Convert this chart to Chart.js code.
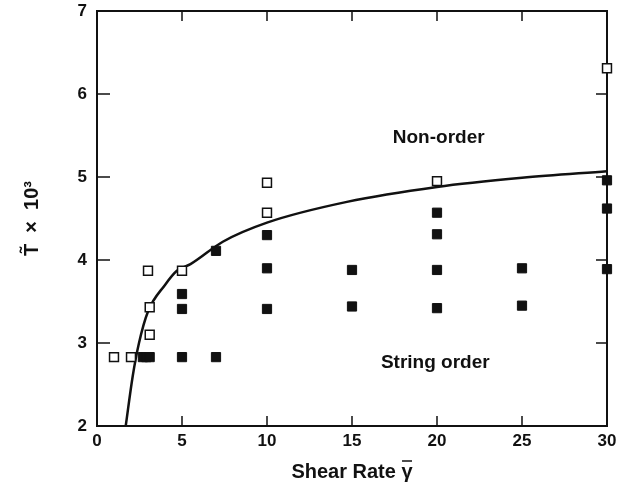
<!DOCTYPE html>
<html>
<head>
<meta charset="utf-8">
<script src="https://cdn.jsdelivr.net/npm/chart.js@4.4.0/dist/chart.umd.min.js"></script>
<style>
  html, body { margin: 0; padding: 0; background: #fff; }
  #wrap { width: 620px; height: 488px; }
</style>
</head>
<body>
<div id="wrap"><canvas id="chart"></canvas></div>
<script>
// Non-order (open squares)
const openX = [1, 2, 3, 3.1, 3.1, 5, 10, 10, 20, 30];
const openY = [2.83, 2.83, 3.87, 3.43, 3.1, 3.87, 4.93, 4.57, 4.95, 6.31];

// String order (filled squares)
const fillX = [2.7, 2.9, 3.1, 5, 7, 5, 5, 7, 10, 10, 10, 15, 15, 20, 20, 20, 20, 25, 25, 30, 30, 30];
const fillY = [2.83, 2.83, 2.83, 2.83, 2.83, 3.41, 3.59, 4.11, 3.41, 3.90, 4.30, 3.44, 3.88, 3.42, 3.88, 4.31, 4.57, 3.45, 3.90, 3.89, 4.62, 4.96];

// Boundary curve
const curveX = [1.69, 2.1, 2.47, 3.0, 4.0, 4.7, 5.5, 7.4, 10, 14.7, 20, 25, 30];
const curveY = [2.0, 2.6, 3.0, 3.38, 3.7, 3.87, 3.95, 4.22, 4.45, 4.70, 4.88, 4.99, 5.07];

// Tick values
const xTicks = [0, 5, 10, 15, 20, 25, 30];
const yTicks = [2, 3, 4, 5, 6, 7];

// Region labels (text, x, y in data units)
const regionLabels = [
    { text: 'Non-order', x: 20.1, y: 5.47 },
    { text: 'String order', x: 19.9, y: 2.76 }
];

const FONT = "'Liberation Sans', Arial, sans-serif";
const X_TITLE = 'Shear Rate γ';
const pts = (xs, ys) => xs.map((x, i) => ({ x, y: ys[i] }));

// Frame + inward ticks + region text + bar over gamma
const framePlugin = {
    id: 'frame',
    beforeDatasetsDraw(chart) {
        const { ctx, chartArea: a, scales: { x, y } } = chart;
        ctx.save();
        ctx.strokeStyle = '#111';
        ctx.lineWidth = 2;
        ctx.strokeRect(a.left, a.top, a.right - a.left, a.bottom - a.top);
        ctx.lineWidth = 1.5;
        ctx.beginPath();
        xTicks.slice(1, -1).forEach(v => {
            const px = x.getPixelForValue(v);
            ctx.moveTo(px, a.bottom); ctx.lineTo(px, a.bottom - 10);
            ctx.moveTo(px, a.top); ctx.lineTo(px, a.top + 10);
        });
        yTicks.slice(1, -1).forEach(v => {
            const py = y.getPixelForValue(v);
            ctx.moveTo(a.left, py); ctx.lineTo(a.left + 13, py);
            ctx.moveTo(a.right, py); ctx.lineTo(a.right - 11, py);
        });
        ctx.stroke();
        ctx.restore();
    },
    afterDraw(chart) {
        const { ctx, scales: { x, y } } = chart;
        ctx.save();
        ctx.fillStyle = '#111';
        ctx.font = `bold 19px ${FONT}`;
        ctx.textAlign = 'center';
        ctx.textBaseline = 'middle';
        regionLabels.forEach(l => {
            ctx.fillText(l.text, x.getPixelForValue(l.x), y.getPixelForValue(l.y));
        });
        // bar over the gamma of the x title
        ctx.font = `bold 20px ${FONT}`;
        const w = ctx.measureText(X_TITLE).width;
        const g = ctx.measureText('γ').width;
        const gx = (x.left + x.right) / 2 + w / 2 - g / 2;
        ctx.strokeStyle = '#111';
        ctx.lineWidth = 1.5;
        ctx.beginPath();
        ctx.moveTo(gx - 5, 461); ctx.lineTo(gx + 5, 461);
        ctx.stroke();
        ctx.restore();
    }
};

new Chart(document.getElementById('chart'), {
    type: 'scatter',
    data: {
        datasets: [
            {
                label: 'boundary',
                data: pts(curveX, curveY),
                showLine: true,
                borderColor: '#111',
                borderWidth: 2.5,
                pointRadius: 0,
                cubicInterpolationMode: 'monotone',
                order: 3
            },
            {
                label: 'Non-order',
                data: pts(openX, openY),
                pointStyle: 'rect',
                pointRadius: 6.3,
                backgroundColor: '#fff',
                borderColor: '#111',
                borderWidth: 1.5,
                clip: false,
                order: 1
            },
            {
                label: 'String order',
                data: pts(fillX, fillY),
                pointStyle: 'rect',
                pointRadius: 6.5,
                backgroundColor: '#111',
                borderColor: '#111',
                borderWidth: 1,
                clip: false,
                order: 2
            }
        ]
    },
    options: {
        responsive: true,
        maintainAspectRatio: false,
        animation: false,
        layout: { padding: { top: 11, right: 13, left: 0, bottom: 0 } },
        plugins: { legend: { display: false }, tooltip: { enabled: false } },
        scales: {
            x: {
                type: 'linear',
                min: 0, max: 30,
                afterFit: s => { s.height = 62; s.paddingLeft = 0; s.paddingRight = 0; },
                afterBuildTicks: s => { s.ticks = xTicks.map(v => ({ value: v })); },
                grid: { display: false, drawTicks: false },
                border: { display: false },
                ticks: { color: '#111', padding: 5, font: { family: FONT, size: 17, weight: 'bold' } },
                title: {
                    display: true,
                    text: X_TITLE,
                    color: '#111',
                    padding: { top: 0, bottom: 4 },
                    font: { family: FONT, size: 20, weight: 'bold' }
                }
            },
            y: {
                type: 'linear',
                min: 2, max: 7,
                afterFit: s => { s.width = 97; s.paddingTop = 0; s.paddingBottom = 0; },
                afterBuildTicks: s => { s.ticks = yTicks.map(v => ({ value: v })); },
                grid: { display: false, drawTicks: false },
                border: { display: false },
                ticks: { color: '#111', padding: 10, font: { family: FONT, size: 17, weight: 'bold' } },
                title: {
                    display: true,
                    text: 'T̃  ×  10³',
                    color: '#111',
                    padding: { top: 20, bottom: 0 },
                    font: { family: FONT, size: 20, weight: 'bold' }
                }
            }
        }
    },
    plugins: [framePlugin]
});
</script>
</body>
</html>
